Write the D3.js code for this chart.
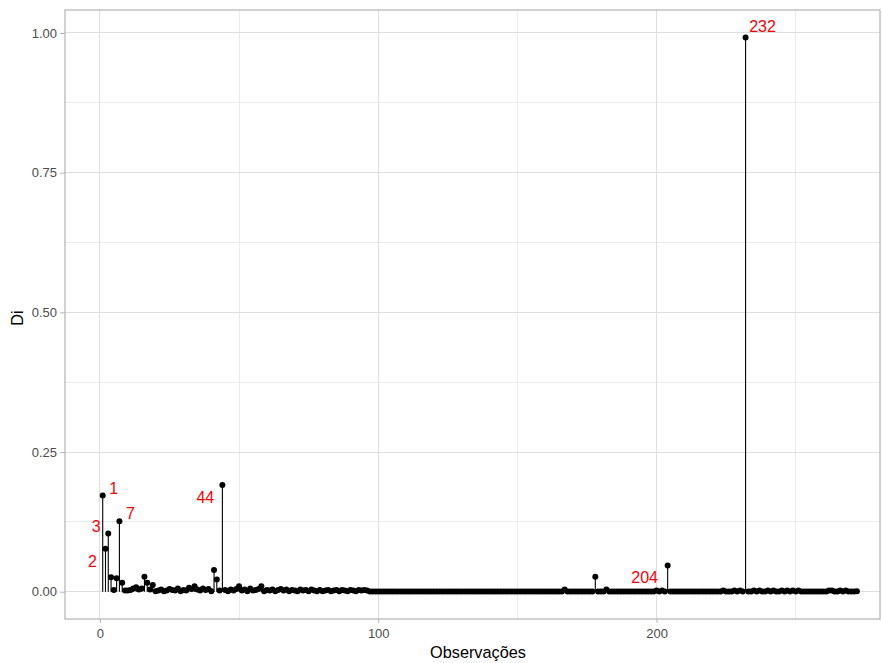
<!DOCTYPE html>
<html>
<head>
<meta charset="utf-8">
<script src="https://cdn.jsdelivr.net/npm/d3@7"></script>
<style>
  body { margin: 0; background: #fff; }
  text { font-family: "Liberation Sans", Arial, sans-serif; }
</style>
</head>
<body>
<div id="chart"></div>
<script>
var di = [
  // 1-20
  0.172, 0.077, 0.104, 0.026, 0.003, 0.024, 0.126, 0.016, 0.002, 0.002,
  0.003, 0.006, 0.008, 0.004, 0.006, 0.027, 0.016, 0.004, 0.012, 0.001,
  // 21-40
  0.002, 0.004, 0.001, 0.002, 0.005, 0.003, 0.002, 0.006, 0.001, 0.003,
  0.002, 0.007, 0.005, 0.010, 0.004, 0.002, 0.006, 0.003, 0.005, 0.001,
  // 41-60
  0.039, 0.022, 0.002, 0.191, 0.003, 0.001, 0.004, 0.002, 0.005, 0.010,
  0.002, 0.004, 0.001, 0.006, 0.002, 0.003, 0.005, 0.010, 0.001, 0.003,
  // 61-80
  0.002, 0.004, 0.001, 0.003, 0.005, 0.002, 0.004, 0.001, 0.003, 0.002,
  0.001, 0.004, 0.002, 0.003, 0.001, 0.004, 0.002, 0.001, 0.003, 0.001,
  // 81-100
  0.002, 0.003, 0.001, 0.002, 0.003, 0.001, 0.003, 0.002, 0.001, 0.003,
  0.002, 0.001, 0.003, 0.002, 0.003, 0.002, 0.0005, 0.0003, 0.0004, 0.0002,
  // 101-120
  0.0003, 0.0005, 0.0002, 0.0004, 0.0003, 0.0002, 0.0005, 0.0003, 0.0004, 0.0002,
  0.0004, 0.0003, 0.0002, 0.0005, 0.0003, 0.0004, 0.0002, 0.0003, 0.0005, 0.0002,
  // 121-140
  0.0003, 0.0004, 0.0002, 0.0005, 0.0003, 0.0002, 0.0004, 0.0003, 0.0005, 0.0002,
  0.0004, 0.0002, 0.0003, 0.0005, 0.0002, 0.0004, 0.0003, 0.0002, 0.0005, 0.0003,
  // 141-160
  0.0002, 0.0004, 0.0003, 0.0005, 0.0002, 0.0003, 0.0004, 0.0002, 0.0005, 0.0003,
  0.0004, 0.0002, 0.0003, 0.0005, 0.0002, 0.0004, 0.0003, 0.0002, 0.0004, 0.0005,
  // 161-180
  0.0003, 0.0002, 0.0004, 0.0003, 0.0005, 0.0002, 0.004, 0.0003, 0.0002, 0.0004,
  0.0003, 0.0005, 0.0002, 0.0004, 0.0003, 0.0002, 0.0005, 0.027, 0.0003, 0.0004,
  // 181-200
  0.0002, 0.004, 0.0003, 0.0005, 0.0002, 0.0004, 0.0003, 0.0002, 0.0005, 0.0003,
  0.0004, 0.0002, 0.0003, 0.0005, 0.0002, 0.0004, 0.0003, 0.0002, 0.0005, 0.002,
  // 201-220
  0.0003, 0.002, 0.0004, 0.047, 0.0002, 0.0003, 0.0005, 0.0002, 0.0004, 0.0003,
  0.0002, 0.0005, 0.0003, 0.0004, 0.0002, 0.0003, 0.0005, 0.0002, 0.0004, 0.0003,
  // 221-240
  0.0002, 0.0005, 0.0003, 0.002, 0.0004, 0.0002, 0.0003, 0.002, 0.0005, 0.002,
  0.0003, 0.992, 0.0004, 0.0002, 0.002, 0.0003, 0.002, 0.0005, 0.0002, 0.002,
  // 241-260
  0.0003, 0.002, 0.0004, 0.0002, 0.002, 0.0003, 0.002, 0.0005, 0.002, 0.0002,
  0.002, 0.0003, 0.0004, 0.0002, 0.0005, 0.0003, 0.0002, 0.0004, 0.0003, 0.0005,
  // 261-272
  0.0002, 0.002, 0.002, 0.0003, 0.0004, 0.002, 0.0002, 0.002, 0.0003, 0.0005,
  0.0002, 0.001
];

// observations flagged with a red label
var labelIds = [1, 2, 3, 7, 44, 204, 232];

var xTicks = [0, 100, 200];
var xMinor = [50, 150, 250];
var yTicks = [0, 0.25, 0.5, 0.75, 1];
var yMinor = [0.125, 0.375, 0.625, 0.875];

// where each label sits relative to its point (px), like ggrepel put them
var labelNudge = {
  1: [11, -7], 2: [-13, 13], 3: [-12, -7], 7: [11, -8],
  44: [-17, 12], 204: [-23, 12], 232: [17, -11]
};

var svgWidth = 882;
var svgHeight = 663;
var panel = { left: 65, right: 880, top: 10, bottom: 619 };

var data = di.map(function(v, i) { return { obs: i + 1, di: v }; });

var svg = d3.select("#chart").append("svg")
  .attr("width", svgWidth).attr("height", svgHeight);

// scales
var x = d3.scaleLinear().domain([-12.55, 280.3]).range([panel.left, panel.right]);
var y = d3.scaleLinear().domain([-0.0488, 1.0411]).range([panel.bottom, panel.top]);

// grid
var grid = svg.append("g").attr("shape-rendering", "crispEdges");
grid.selectAll(".ym").data(yMinor).enter().append("line")
  .attr("x1", panel.left).attr("x2", panel.right)
  .attr("y1", d => y(d)).attr("y2", d => y(d))
  .attr("stroke", "#ebebeb").attr("stroke-width", 1);
grid.selectAll(".xm").data(xMinor).enter().append("line")
  .attr("y1", panel.top).attr("y2", panel.bottom)
  .attr("x1", d => x(d)).attr("x2", d => x(d))
  .attr("stroke", "#ebebeb").attr("stroke-width", 1);
grid.selectAll(".yM").data(yTicks).enter().append("line")
  .attr("x1", panel.left).attr("x2", panel.right)
  .attr("y1", d => y(d)).attr("y2", d => y(d))
  .attr("stroke", "#dedede").attr("stroke-width", 1);
grid.selectAll(".xM").data(xTicks).enter().append("line")
  .attr("y1", panel.top).attr("y2", panel.bottom)
  .attr("x1", d => x(d)).attr("x2", d => x(d))
  .attr("stroke", "#dedede").attr("stroke-width", 1);

// axes
var xAxis = svg.append("g")
  .attr("transform", `translate(0,${panel.bottom})`)
  .call(d3.axisBottom(x).tickValues(xTicks).tickSize(4).tickPadding(6).tickFormat(d3.format("d")));
var yAxis = svg.append("g")
  .attr("transform", `translate(${panel.left},0)`)
  .call(d3.axisLeft(y).tickValues(yTicks).tickSize(5).tickPadding(3).tickFormat(d3.format(".2f")));

[xAxis, yAxis].forEach(function(a) {
  a.select(".domain").remove();
  a.selectAll(".tick line").attr("stroke", "#b3b3b3");
  a.selectAll(".tick text").attr("fill", "#4d4d4d").style("font-size", "13px")
    .style("font-family", "'Liberation Sans', Arial, sans-serif");
});

// panel border
svg.append("rect")
  .attr("x", panel.left).attr("y", panel.top)
  .attr("width", panel.right - panel.left).attr("height", panel.bottom - panel.top)
  .attr("fill", "none").attr("stroke", "#b3b3b3").attr("stroke-width", 1.2);

// segments + points
svg.append("g").selectAll("line").data(data).enter().append("line")
  .attr("x1", d => x(d.obs)).attr("x2", d => x(d.obs))
  .attr("y1", y(0)).attr("y2", d => y(d.di))
  .attr("stroke", "#000").attr("stroke-width", 1.1);

svg.append("g").selectAll("circle").data(data).enter().append("circle")
  .attr("cx", d => x(d.obs)).attr("cy", d => y(d.di))
  .attr("r", 3).attr("fill", "#000");

// labels
svg.append("g").selectAll("text").data(data.filter(d => labelIds.indexOf(d.obs) >= 0))
  .enter().append("text")
  .attr("x", d => x(d.obs) + labelNudge[d.obs][0])
  .attr("y", d => y(d.di) + labelNudge[d.obs][1])
  .attr("text-anchor", "middle").attr("dominant-baseline", "central")
  .attr("fill", "#ff0000").style("font-size", "16px")
  .text(d => d.obs);

// axis titles
svg.append("text")
  .attr("x", 478).attr("y", 658)
  .attr("text-anchor", "middle").attr("fill", "#000").style("font-size", "16.3px")
  .text("Observações");

svg.append("text")
  .attr("transform", "translate(23,318) rotate(-90)")
  .attr("text-anchor", "middle").attr("fill", "#000").style("font-size", "16.3px")
  .text("Di");
</script>
</body>
</html>
